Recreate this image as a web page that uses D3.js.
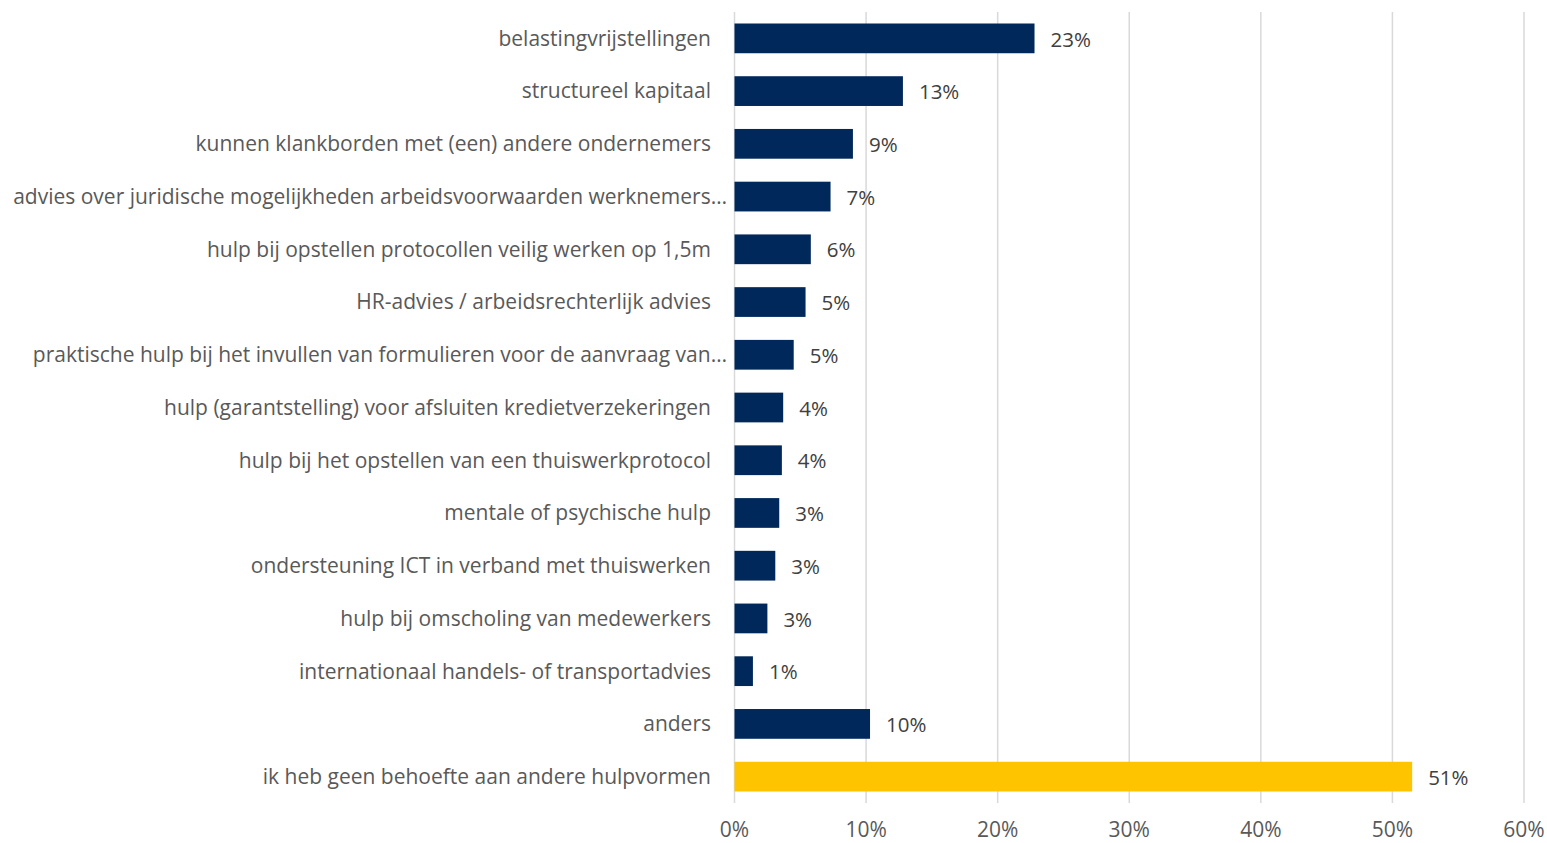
<!DOCTYPE html>
<html>
<head>
<meta charset="utf-8">
<script src="https://cdn.jsdelivr.net/npm/d3@7"></script>
<style>
  html, body { margin: 0; padding: 0; background: #fff; }
  svg { display: block; }
</style>
</head>
<body>
<svg id="chart" width="1547" height="843"></svg>
<script>
const categories = [
  'belastingvrijstellingen',
  'structureel kapitaal',
  'kunnen klankborden met (een) andere ondernemers',
  'advies over juridische mogelijkheden arbeidsvoorwaarden werknemers…',
  'hulp bij opstellen protocollen veilig werken op 1,5m',
  'HR-advies / arbeidsrechterlijk advies',
  'praktische hulp bij het invullen van formulieren voor de aanvraag van…',
  'hulp (garantstelling) voor afsluiten kredietverzekeringen',
  'hulp bij het opstellen van een thuiswerkprotocol',
  'mentale of psychische hulp',
  'ondersteuning ICT in verband met thuiswerken',
  'hulp bij omscholing van medewerkers',
  'internationaal handels- of transportadvies',
  'anders',
  'ik heb geen behoefte aan andere hulpvormen'
]
const values = [22.8, 12.8, 9.0, 7.3, 5.8, 5.4, 4.5, 3.7, 3.6, 3.4, 3.1, 2.5, 1.4, 10.3, 51.5]
const valueLabels = ['23%', '13%', '9%', '7%', '6%', '5%', '5%', '4%', '4%', '3%', '3%', '3%', '1%', '10%', '51%']
const ticks = [0, 10, 20, 30, 40, 50, 60]

const svg = d3.select('#chart')
const margin = { top: 12, right: 23, bottom: 40, left: 734.5 }
const width = 1547
const height = 843

const x = d3.scaleLinear()
  .domain([0, 60])
  .range([margin.left, width - margin.right])

const y = d3.scaleBand()
  .domain(categories)
  .range([margin.top, height - margin.bottom])
  .paddingInner(0.436)
  .paddingOuter(0.218)

// gridlines
svg.append('g')
  .selectAll('line')
  .data(ticks)
  .join('line')
  .attr('x1', d => x(d))
  .attr('x2', d => x(d))
  .attr('y1', margin.top)
  .attr('y2', height - margin.bottom)
  .attr('stroke', '#d9d9d9')
  .attr('stroke-width', 1.5)

svg.append('g')
  .selectAll('rect')
  .data(values)
  .join('rect')
  .attr('x', x(0))
  .attr('y', (_, i) => y(categories[i]))
  .attr('width', d => x(d) - x(0))
  .attr('height', y.bandwidth())
  .attr('fill', (_, i) => i === values.length - 1 ? '#ffc400' : '#00285a')

const font = '"Open Sans", sans-serif'

svg.append('g')
  .selectAll('text')
  .data(values)
  .join('text')
  .attr('x', d => x(d) + 16)
  .attr('y', (_, i) => y(categories[i]) + y.bandwidth() / 2 + 1)
  .attr('dy', '0.35em')
  .attr('font-family', font)
  .attr('font-size', 20.5)
  .attr('fill', '#404040')
  .text((_, i) => valueLabels[i])

// truncated labels (ending in an ellipsis) run a little further right
svg.append('g')
  .selectAll('text')
  .data(categories)
  .join('text')
  .attr('x', d => d.endsWith('…') ? 727 : 711)
  .attr('y', d => y(d) + y.bandwidth() / 2)
  .attr('dy', '0.35em')
  .attr('text-anchor', 'end')
  .attr('font-family', font)
  .attr('font-size', 21)
  .attr('fill', '#595959')
  .text(d => d)

svg.append('g')
  .selectAll('text')
  .data(ticks)
  .join('text')
  .attr('x', d => x(d))
  .attr('y', 830)
  .attr('dy', '0.35em')
  .attr('text-anchor', 'middle')
  .attr('font-family', font)
  .attr('font-size', 21)
  .attr('fill', '#595959')
  .text(d => d + '%')
</script>
</body>
</html>
